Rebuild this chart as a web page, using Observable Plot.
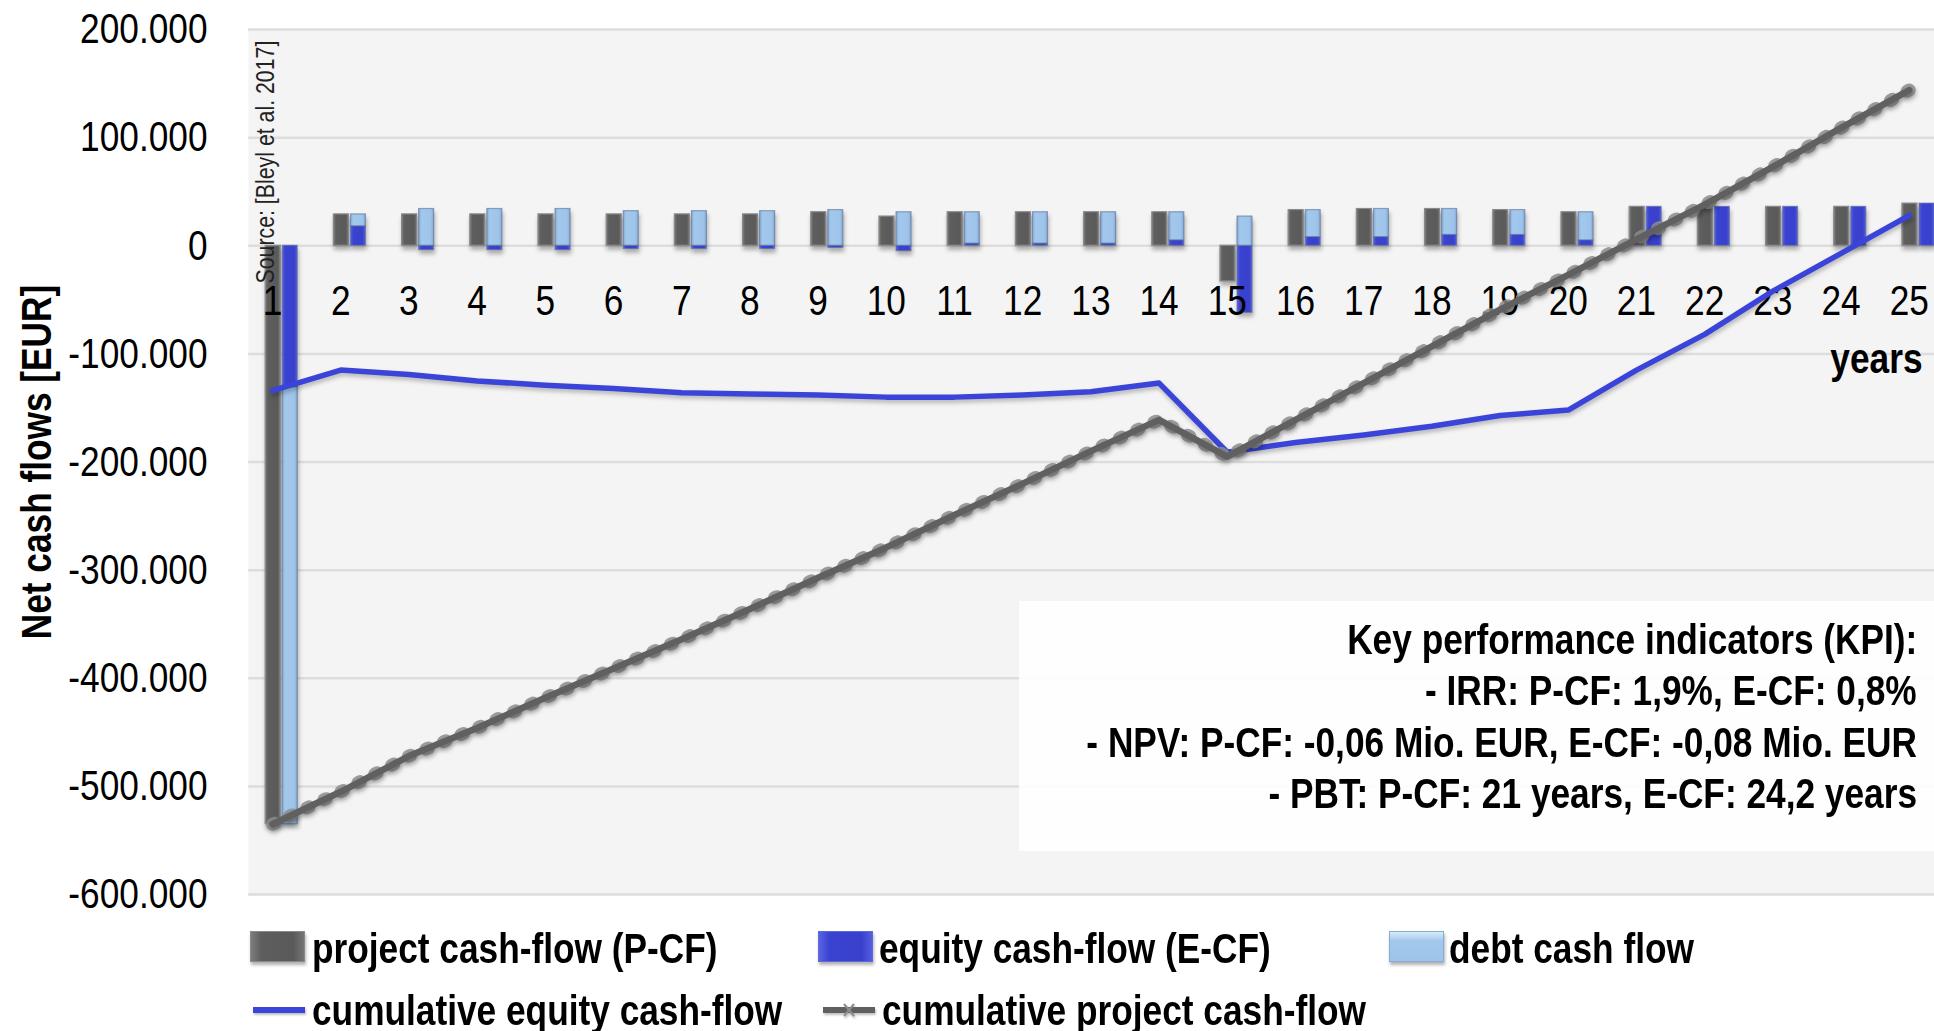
<!DOCTYPE html>
<html>
<head>
<meta charset="utf-8">
<script src="https://cdn.jsdelivr.net/npm/d3@7"></script>
<script src="https://cdn.jsdelivr.net/npm/@observablehq/plot@0.6"></script>
<style>
  body { margin: 0; background: #fff; }
  #wrap { position: relative; width: 1934px; height: 1031px; overflow: hidden;
          font-family: 'Liberation Sans', Arial, sans-serif; }
  #chart svg { display: block; }
  #kpi { position: absolute; left: 1019px; top: 601px; width: 915px; height: 250px;
         background: rgba(255,255,255,0.9); }
  .kl { position: absolute; right: 17px; white-space: nowrap; font-weight: bold; font-size: 43px;
        line-height: 43px; color: #000; transform: scaleX(0.82); transform-origin: right center; }
  #legend { position: relative; width: 1934px; height: 126px; }
  .li { position: absolute; font-weight: bold; font-size: 43px; line-height: 43px; white-space: nowrap; color: #000;
        transform: scaleX(0.82); transform-origin: left center; }
  .sw { position: absolute; width: 55px; height: 31px; box-sizing: border-box; }
</style>
</head>
<body>
<div id="wrap">
  <div id="chart"></div>
  <div id="kpi"></div>
  <div id="legend"></div>
</div>
<script>
// ---- data (values in thousand EUR) ----
const years = [1,2,3,4,5,6,7,8,9,10,11,12,13,14,15,16,17,18,19,20,21,22,23,24,25];
const projectCF = [-535,29,29,29,29,29,29,29,31,27,31,31,31,31,-33,33,34,34,33,31,36,36,36,36,39];
const equityCF  = [-131,18,-4,-4,-4,-3,-3,-3,-2,-5,2,2,2,5,-62,8,8,10,10,5,36,36,36,36,39];
const debtCF    = [-404,11,34,34,34,32,32,32,33,31,29,29,29,26,27,25,26,24,23,26,0,0,0,0,0];
const cumEquity = [-134,-115,-119,-125,-129,-132,-136,-137,-138,-140,-140,-138,-135,-127,-191,-182,-175,-167,-157,-152,-115,-82,-42,-7,28];
const cumProject= [-535,-505,-472,-446,-418,-391,-364,-336,-307,-279,-249,-220,-190,-161,-195,-161,-127,-93,-59,-27,6,38,73,109,144];
const yTicks = [200000,100000,0,-100000,-200000,-300000,-400000,-500000,-600000];
const yLabel = "Net cash flows [EUR]";
const xLabel = "years";
const sourceText = "Source: [Bleyl et al. 2017]";
const kpiLines = [
  "Key performance indicators (KPI):",
  "- IRR: P-CF: 1,9%, E-CF: 0,8%",
  "- NPV: P-CF: -0,06 Mio. EUR, E-CF: -0,08 Mio. EUR",
  "- PBT: P-CF: 21 years, E-CF: 24,2 years"
];
const legendBars = ["project cash-flow (P-CF)", "equity cash-flow (E-CF)", "debt cash flow"];
const legendLines = ["cumulative equity cash-flow", "cumulative project cash-flow"];

// ---- tables ----
const rows = years.map((y, i) => ({year: y, pcf: projectCF[i] * 1000, cumEq: cumEquity[i] * 1000, cumPr: cumProject[i] * 1000}));
const stackRows = years.flatMap((y, i) => [
  {year: y, type: "equity", v: equityCF[i] * 1000},
  {year: y, type: "debt", v: debtCF[i] * 1000}
]);

const fmt = d => d === 0 ? "0" : (d < 0 ? "-" : "") + d3.format(",")(Math.abs(d)).replace(/,/g, ".");
const FONT = "'Liberation Sans', Arial, sans-serif";

const chart = Plot.plot({
  width: 1934, height: 905,
  marginLeft: 248, marginRight: 0, marginTop: 29, marginBottom: 11,
  x: {type: "linear", domain: [0.648, 25.37], axis: null},
  y: {domain: [-600000, 200000], axis: null},
  color: {domain: ["equity", "debt"], range: ["url(#gBlue)", "url(#gLight)"]},
  style: {fontFamily: FONT, background: "transparent", overflow: "visible", color: "#000"},
  marks: [
    Plot.frame({fill: "#f4f4f4", stroke: "none"}),
    Plot.gridY(yTicks, {stroke: "#dddddd", strokeWidth: 2.5, strokeOpacity: 1}),
    Plot.text(yTicks, {y: d => d, frameAnchor: "left", dx: -41, textAnchor: "end", lineAnchor: "middle", text: fmt, fontSize: 43, fill: "#000"}),
    Plot.rectY(rows, {x1: d => d.year - 0.10, x2: d => d.year + 0.12, y1: 0, y2: "pcf",
      fill: "url(#gGrey)", stroke: "#8a8a8a", strokeWidth: 1.2}),
    Plot.rectY(stackRows, {x1: d => d.year + 0.15, x2: d => d.year + 0.37, y: "v",
      fill: "type", stroke: "rgba(90,110,150,0.6)", strokeWidth: 1.2}),
    Plot.text(rows, {x: "year", y: 0, dy: 55, lineAnchor: "middle", text: d => String(d.year), fontSize: 43, fill: "#000"}),
    Plot.text([sourceText], {frameAnchor: "top-left", dx: 17, dy: 254, rotate: -90, textAnchor: "start", lineAnchor: "middle",
      text: d => d, fontSize: 26, fill: "#222"}),
    Plot.text([xLabel], {frameAnchor: "top-right", dx: -12, dy: 330, textAnchor: "end", lineAnchor: "middle",
      text: d => d, fontSize: 43, fontWeight: "bold", fill: "#000"}),
    Plot.text([yLabel], {frameAnchor: "left", dx: -211, rotate: -90, textAnchor: "middle", lineAnchor: "middle",
      text: d => d, fontSize: 43, fontWeight: "bold", fill: "#000"}),
    Plot.line(rows, {x: "year", y: "cumEq", stroke: "#3b44d8", strokeWidth: 5.5}),
    Plot.line(rows, {x: "year", y: "cumPr", stroke: "#8c8c8c", strokeWidth: 13, strokeDasharray: "2.5 16.5", strokeOpacity: 0.85}),
    Plot.line(rows, {x: "year", y: "cumPr", stroke: "#606060", strokeWidth: 6.5})
  ]
});

// gradients + shadows (style only)
const defs = document.createElementNS("http://www.w3.org/2000/svg", "defs");
defs.innerHTML = `
  <linearGradient id="gGrey" x1="0" x2="1" y1="0" y2="0">
    <stop offset="0" stop-color="#7c7c7c"/><stop offset="0.18" stop-color="#5e5e5e"/>
    <stop offset="0.82" stop-color="#5a5a5a"/><stop offset="1" stop-color="#767676"/></linearGradient>
  <linearGradient id="gBlue" x1="0" x2="1" y1="0" y2="0">
    <stop offset="0" stop-color="#5a62e4"/><stop offset="0.2" stop-color="#3a42d0"/>
    <stop offset="0.8" stop-color="#3840cc"/><stop offset="1" stop-color="#555ddf"/></linearGradient>
  <linearGradient id="gLight" x1="0" x2="1" y1="0" y2="0">
    <stop offset="0" stop-color="#86acd6"/><stop offset="0.2" stop-color="#a2c8ec"/>
    <stop offset="0.8" stop-color="#9ec4ea"/><stop offset="1" stop-color="#86acd6"/></linearGradient>`;
chart.insertBefore(defs, chart.firstChild);
chart.querySelectorAll('g[aria-label="rect"]').forEach(g => g.style.filter = "drop-shadow(1px 4px 2px rgba(0,0,0,0.3))");
chart.querySelectorAll('g[aria-label="line"]').forEach(g => g.style.filter = "drop-shadow(1px 3px 2px rgba(0,0,0,0.25))");

// narrow the glyphs (Arial Narrow look) by scaling each text along its own direction
chart.querySelectorAll("text").forEach(t => {
  let tr = t.getAttribute("transform") || "";
  const x = t.getAttribute("x");
  if (x !== null && !isNaN(+x) && +x !== 0) {
    tr += ` translate(${+x},0)`;
    t.setAttribute("x", 0);
  }
  t.setAttribute("transform", tr + " scale(0.82,1)");
});
document.getElementById("chart").appendChild(chart);

// KPI box
const kpi = document.getElementById("kpi");
kpiLines.forEach((t, i) => {
  const d = document.createElement("div"); d.className = "kl"; d.textContent = t;
  d.style.top = (53 - 36.4 + i * 51.6) + "px"; kpi.appendChild(d);
});

// legend
const legend = document.getElementById("legend");
const barSw = [
  {x: 250, bg: "linear-gradient(to right,#7c7c7c,#5e5e5e 20%,#5a5a5a 80%,#767676)", bd: "#8a8a8a", tx: 312},
  {x: 818, bg: "linear-gradient(to right,#5a62e4,#3a42d0 20%,#3840cc 80%,#555ddf)", bd: "#6068e0", tx: 879},
  {x: 1389, bg: "linear-gradient(to bottom,#d6ecfa,#a2c8ec 30%,#9ec4ea)", bd: "#86acd6", tx: 1449}
];
legendBars.forEach((t, i) => {
  const s = document.createElement("div"); s.className = "sw";
  s.style.left = barSw[i].x + "px"; s.style.top = "26px"; s.style.background = barSw[i].bg;
  s.style.border = "1.5px solid " + barSw[i].bd; s.style.boxShadow = "1px 3px 3px rgba(0,0,0,0.3)";
  legend.appendChild(s);
  const l = document.createElement("div"); l.className = "li"; l.textContent = t;
  l.style.left = barSw[i].tx + "px"; l.style.top = "22px"; legend.appendChild(l);
});
const lineSw = [{x: 253, c: "#3b44d8", tx: 312, mk: false}, {x: 823, c: "#606060", tx: 882, mk: true}];
legendLines.forEach((t, i) => {
  const ns = "http://www.w3.org/2000/svg";
  const s = document.createElementNS(ns, "svg");
  s.setAttribute("width", 56); s.setAttribute("height", 20);
  s.style.position = "absolute"; s.style.left = lineSw[i].x + "px"; s.style.top = "95px";
  s.style.filter = "drop-shadow(1px 2px 1px rgba(0,0,0,0.25))";
  s.innerHTML = `<line x1="0" x2="52" y1="10" y2="10" stroke="${lineSw[i].c}" stroke-width="6"/>` +
    (lineSw[i].mk ? `<path d="M21,4L31,16M31,4L21,16" stroke="#8c8c8c" stroke-width="2"/>` : "");
  legend.appendChild(s);
  const l = document.createElement("div"); l.className = "li"; l.textContent = t;
  l.style.left = lineSw[i].tx + "px"; l.style.top = "84px"; legend.appendChild(l);
});
</script>
</body>
</html>
